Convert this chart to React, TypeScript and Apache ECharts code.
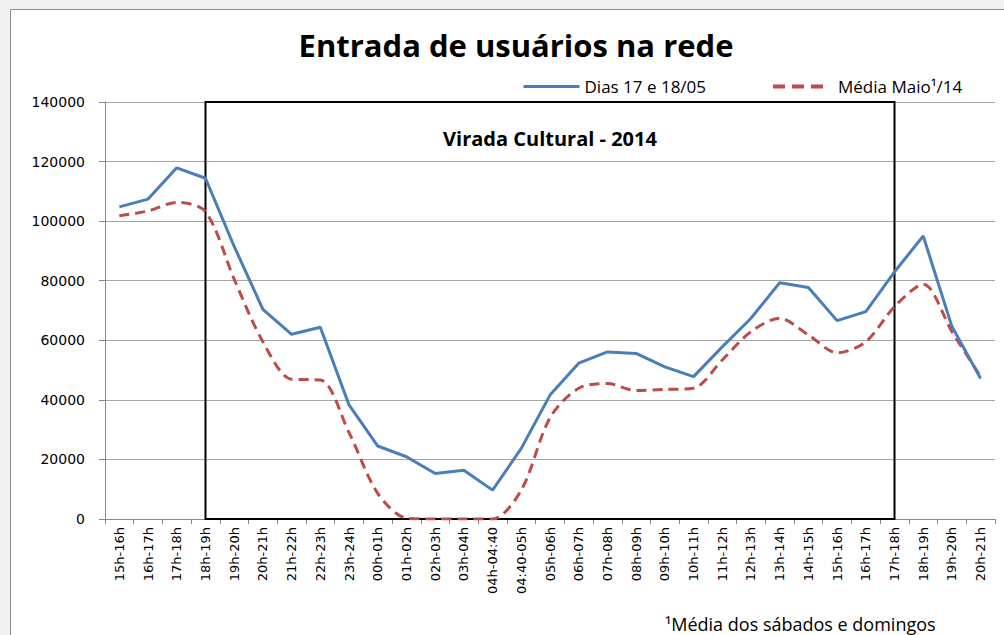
import React, { useEffect, useRef } from "react";
import * as echarts from "echarts";

const categories = [
  "15h-16h", "16h-17h", "17h-18h", "18h-19h", "19h-20h", "20h-21h", "21h-22h", "22h-23h",
  "23h-24h", "00h-01h", "01h-02h", "02h-03h", "03h-04h", "04h-04:40", "04:40-05h", "05h-06h",
  "06h-07h", "07h-08h", "08h-09h", "09h-10h", "10h-11h", "11h-12h", "12h-13h", "13h-14h",
  "14h-15h", "15h-16h", "16h-17h", "17h-18h", "18h-19h", "19h-20h", "20h-21h",
];

const dias = [
  104800, 107400, 117900, 114400, 91500, 70400, 62000, 64400, 38300, 24500, 20900, 15300,
  16400, 9700, 23700, 41600, 52300, 56100, 55600, 51100, 47800, 57800, 67400, 79300,
  77700, 66600, 69600, 83000, 95000, 64600, 47200,
];

const mediaMaio = [
  101800, 103400, 106300, 103200, 80500, 59500, 46900, 46700, 29000, 8600, 300, 0,
  0, 0, 9700, 34000, 43900, 45500, 43100, 43500, 43900, 53400, 62900, 67400,
  61800, 55800, 59500, 71300, 78800, 62900, 47800,
];

const yTicks = [0, 20000, 40000, 60000, 80000, 100000, 120000, 140000];
const viradaStartIndex = 3;
const viradaEndIndex = 27;

const seriesNames = ["Dias 17 e 18/05", "Média Maio¹/14"];
const titleText = "Entrada de usuários na rede";
const boxLabel = "Virada Cultural - 2014";
const footnote = "¹Média dos sábados e domingos";

export default function App() {
  const ref = useRef<HTMLDivElement>(null);

  useEffect(() => {
    if (!ref.current) return;
    const chart = echarts.init(ref.current, undefined, { renderer: "svg" });
    const uiFont = "Open Sans";
    const axisFont = "DejaVu Sans";
    chart.setOption({
      animation: false,
      backgroundColor: "#f0f0f0",
      graphic: [
        {
          type: "rect",
          z: -10,
          shape: { x: 10.5, y: 9.5, width: 1000, height: 640 },
          style: { fill: "#ffffff", stroke: "#8c8c8c", lineWidth: 1 },
        },
        {
          type: "text",
          x: 516,
          y: 45,
          style: {
            text: titleText,
            fontFamily: uiFont,
            fontWeight: "bold",
            fontSize: 31,
            fill: "#000",
            textAlign: "center",
            textVerticalAlign: "middle",
          },
        },
        {
          type: "text",
          x: 665,
          y: 624,
          style: {
            text: footnote,
            fontFamily: uiFont,
            fontSize: 18,
            fill: "#000",
            textAlign: "left",
            textVerticalAlign: "middle",
          },
        },
      ],
      legend: [
        {
          left: 522,
          top: 78,
          padding: 0,
          itemWidth: 56,
          itemHeight: 14,
          selectedMode: false,
          itemStyle: { opacity: 0 },
          lineStyle: { width: 3 },
          data: [seriesNames[0]],
          textStyle: { fontFamily: uiFont, fontSize: 17, color: "#000" },
        },
        {
          left: 771,
          top: 78,
          padding: 0,
          itemWidth: 51,
          itemHeight: 14,
          selectedMode: false,
          itemStyle: { opacity: 0 },
          lineStyle: { width: 4, type: [12, 7] },
          data: [seriesNames[1]],
          textStyle: { fontFamily: uiFont, fontSize: 17, color: "#000", padding: [0, 0, 0, 9] },
        },
      ],
      grid: { left: 105, right: 9, top: 102, bottom: 116, containLabel: false },
      xAxis: {
        type: "category",
        data: categories,
        boundaryGap: true,
        axisLine: { lineStyle: { color: "#868686", width: 1 } },
        axisTick: { show: true, alignWithLabel: false, length: 5, lineStyle: { color: "#868686" } },
        axisLabel: {
          interval: 0,
          rotate: 90,
          margin: 8,
          fontFamily: axisFont,
          fontSize: 13,
          color: "#000",
        },
        splitLine: { show: false },
      },
      yAxis: {
        type: "value",
        min: yTicks[0],
        max: yTicks[yTicks.length - 1],
        interval: yTicks[1] - yTicks[0],
        axisLine: { show: true, lineStyle: { color: "#868686", width: 1 } },
        axisTick: { show: true, length: 6, lineStyle: { color: "#868686" } },
        axisLabel: {
          margin: 20,
          fontFamily: axisFont,
          fontSize: 14,
          color: "#000",
          formatter: (v: number) => String(v),
        },
        splitLine: { show: true, lineStyle: { color: "#a6a6a6", width: 1 } },
      },
      series: [
        {
          name: seriesNames[0],
          type: "line",
          data: dias,
          symbol: "none",
          smooth: false,
          lineStyle: { color: "#4a7ebb", width: 3 },
          itemStyle: { color: "#4a7ebb" },
          z: 3,
          markArea: {
            silent: true,
            itemStyle: { color: "rgba(0,0,0,0)", borderColor: "#000", borderWidth: 2 },
            label: {
              show: true,
              position: "insideTop",
              distance: 27,
              fontFamily: uiFont,
              fontWeight: "bold",
              fontSize: 20,
              color: "#000",
            },
            data: [
              [
                { name: boxLabel, xAxis: viradaStartIndex, yAxis: yTicks[yTicks.length - 1] },
                { xAxis: viradaEndIndex, yAxis: yTicks[0] },
              ],
            ],
          },
        },
        {
          name: seriesNames[1],
          type: "line",
          data: mediaMaio,
          symbol: "none",
          smooth: 0.3,
          lineStyle: { color: "#be4b48", width: 3, type: [10, 6] },
          itemStyle: { color: "#be4b48" },
          z: 2,
        },
      ],
    });
    return () => chart.dispose();
  }, []);

  return (
    <div
      ref={ref}
      style={{ position: "absolute", left: 0, top: 0, width: 1004, height: 635 }}
    />
  );
}
